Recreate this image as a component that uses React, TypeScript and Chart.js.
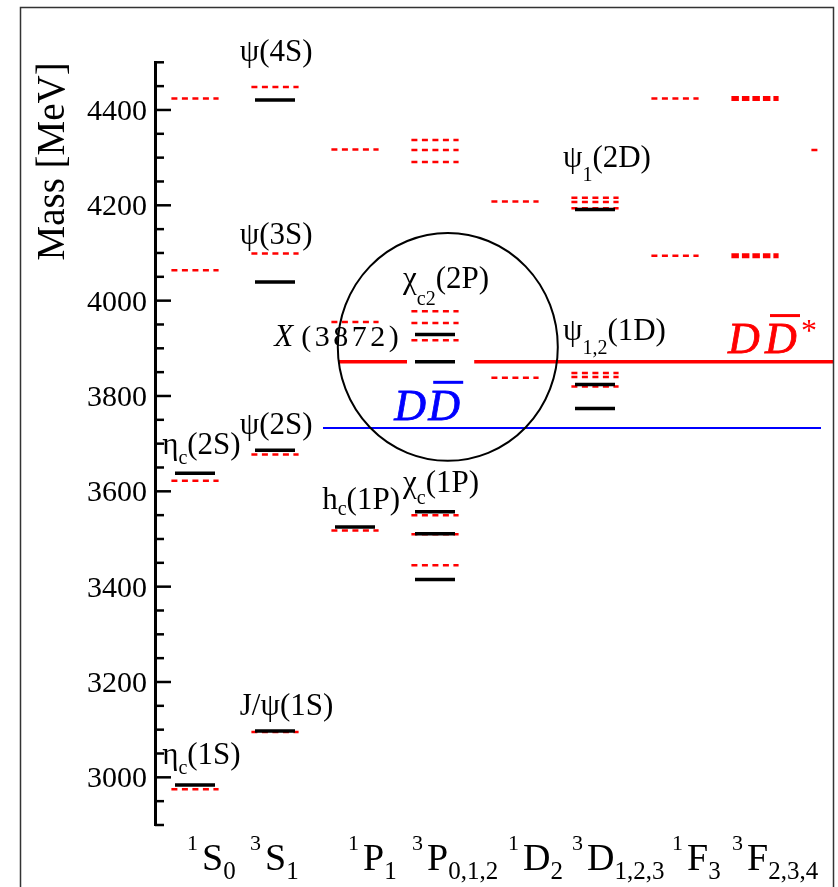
import React, { useEffect, useRef } from 'react';
import { Chart, registerables } from 'chart.js';

Chart.register(...registerables);

const W = 838;
const H = 887;

// Spectroscopic terms along the horizontal axis
const TERM_SUP = ['1', '3', '1', '3', '1', '3', '1', '3'];
const TERM_LETTER = ['S', 'S', 'P', 'P', 'D', 'D', 'F', 'F'];
const TERM_SUB = ['0', '1', '1', '0,1,2', '2', '1,2,3', '3', '2,3,4'];

// Mass axis (MeV)
const Y_MIN = 2900;
const Y_MAX = 4500;
const MAJOR_TICKS = [3000, 3200, 3400, 3600, 3800, 4000, 4200, 4400];
const MINOR_STEP = 50;

// Observed charmonium levels (solid black), MeV
const EXP_1S0 = [2984, 3638];
const EXP_3S1 = [3097, 3686, 4039, 4421];
const EXP_1P1 = [3525];
const EXP_3PJ = [3415, 3511, 3557, 3929];
const EXP_3DJ = [3774, 3824, 4191];
const X3872 = 3872;

// Quark-model levels (red dashed), MeV
const MODEL_1S0 = [2975, 3622, 4064, 4424];
const MODEL_3S1 = [3095, 3677, 4099, 4448];
const MODEL_1P1 = [3518, 3955, 4317];
const MODEL_3PJ = [3445, 3510, 3550, 3917, 3953, 3978, 4291, 4316, 4337];
const MODEL_1D2 = [3838, 4208];
const MODEL_3DJ = [3820, 3840, 3848, 4194, 4207, 4216];
const MODEL_1F3 = [4094, 4424];
const MODEL_3FJ = [4094, 4424];
const MODEL_G = [4316];

// Open-charm thresholds, MeV
const DD_THRESHOLD = 3733;
const DDSTAR_THRESHOLD = X3872;

const EXP_BY_COLUMN = [EXP_1S0, EXP_3S1, EXP_1P1, [...EXP_3PJ, X3872], [], EXP_3DJ, [], []];
const MODEL_BY_COLUMN = [MODEL_1S0, MODEL_3S1, MODEL_1P1, MODEL_3PJ, MODEL_1D2, MODEL_3DJ, MODEL_1F3, MODEL_3FJ, MODEL_G];

const RED = '#ff0000';
const BLUE = '#0000ff';
const SERIF = '"Liberation Serif", "Times New Roman", serif';

const X_MIN = -0.5;
const X_MAX = 7.825;
const HALF_EXP = 0.25;
const HALF_MODEL = 0.295;

function segment(x0: number, x1: number, y: number) {
  return [{ x: x0, y }, { x: x1, y }];
}

function buildDatasets() {
  const sets: any[] = [];
  MODEL_BY_COLUMN.forEach((masses, col) => {
    const thick = col === 7;
    masses.forEach((m) => {
      sets.push({
        data: segment(col - HALF_MODEL, col + HALF_MODEL, m),
        borderColor: RED,
        borderWidth: thick ? 5 : 2.5,
        borderDash: thick ? [7.5, 3] : [6, 4.5],
        borderCapStyle: 'butt',
        order: 3,
      });
    });
  });
  // thresholds
  sets.push({
    data: segment(1.6, X_MAX + 0.5, DD_THRESHOLD),
    borderColor: BLUE,
    borderWidth: 2,
    order: 2,
  });
  sets.push({
    data: segment(1.79, 2.65, DDSTAR_THRESHOLD),
    borderColor: RED,
    borderWidth: 3.5,
    order: 2,
  });
  sets.push({
    data: segment(3.49, 7.975, DDSTAR_THRESHOLD),
    borderColor: RED,
    borderWidth: 3.5,
    clip: false,
    order: 2,
  });
  EXP_BY_COLUMN.forEach((masses, col) => {
    masses.forEach((m) => {
      sets.push({
        data: segment(col - HALF_EXP, col + HALF_EXP, m),
        borderColor: '#000',
        borderWidth: 3.5,
        borderCapStyle: 'butt',
        order: 1,
      });
    });
  });
  return sets.map((s) => ({ showLine: true, pointRadius: 0, pointHoverRadius: 0, fill: false, ...s }));
}

type Run = { t: string; size: number; dy?: number; dx?: number; italic?: boolean };

const NAME = 31;
const IDX = 20;

// State names: anchor x in column units, baseline in MeV
const STATE_LABELS: { x: number; m: number; runs: Run[] }[] = [
  { x: 0.56, m: 4503, runs: [{ t: 'ψ(4S)', size: NAME }] },
  { x: 0.56, m: 4119, runs: [{ t: 'ψ(3S)', size: NAME }] },
  { x: 0.56, m: 3720, runs: [{ t: 'ψ(2S)', size: NAME }] },
  { x: -0.41, m: 3678, runs: [{ t: 'η', size: NAME }, { t: 'c', size: IDX, dy: 10 }, { t: '(2S)', size: NAME }] },
  { x: -0.41, m: 3028, runs: [{ t: 'η', size: NAME }, { t: 'c', size: IDX, dy: 10 }, { t: '(1S)', size: NAME }] },
  { x: 0.56, m: 3131, runs: [{ t: 'J/ψ(1S)', size: NAME }] },
  { x: 1.59, m: 3563, runs: [{ t: 'h', size: NAME }, { t: 'c', size: IDX, dy: 6 }, { t: '(1P)', size: NAME }] },
  { x: 2.6, m: 3599, runs: [{ t: 'χ', size: NAME }, { t: 'c', size: IDX, dy: 12 }, { t: '(1P)', size: NAME }] },
  { x: 2.6, m: 4027, runs: [{ t: 'χ', size: NAME }, { t: 'c2', size: IDX, dy: 17 }, { t: '(2P)', size: NAME }] },
  { x: 4.6, m: 4280, runs: [{ t: 'ψ', size: NAME }, { t: '1', size: IDX, dy: 14 }, { t: '(2D)', size: NAME }] },
  { x: 4.6, m: 3918, runs: [{ t: 'ψ', size: NAME }, { t: '1,2', size: IDX, dy: 14 }, { t: '(1D)', size: NAME }] },
];

const TERM_LEFT_SHIFT = [-8, -25, -7, -23, -7, -23, -3, -23];

function drawRuns(ctx: CanvasRenderingContext2D, x: number, y: number, runs: Run[], color: string, spacing = 0) {
  let cx = x;
  ctx.fillStyle = color;
  for (const r of runs) {
    ctx.font = `${r.italic ? 'italic ' : ''}${r.size}px ${SERIF}`;
    cx += r.dx || 0;
    if (spacing) {
      for (const ch of r.t) {
        ctx.fillText(ch, cx, y + (r.dy || 0));
        cx += ctx.measureText(ch).width + spacing;
      }
    } else {
      ctx.fillText(r.t, cx, y + (r.dy || 0));
      cx += ctx.measureText(r.t).width;
    }
  }
  return cx;
}

const decorations = {
  id: 'decorations',
  beforeDraw(chart: any) {
    const ctx = chart.ctx;
    ctx.save();
    ctx.fillStyle = '#fff';
    ctx.fillRect(0, 0, chart.width, chart.height);
    ctx.restore();
  },
  afterDatasetsDraw(chart: any) {
    const ctx: CanvasRenderingContext2D = chart.ctx;
    const xs = chart.scales.x;
    const ys = chart.scales.y;
    const px = (v: number) => xs.getPixelForValue(v);
    const py = (v: number) => ys.getPixelForValue(v);
    ctx.save();
    ctx.textBaseline = 'alphabetic';
    ctx.textAlign = 'left';

    // ring around the X(3872) region
    const cx = 3.16;
    const cm = 3903;
    ctx.beginPath();
    ctx.ellipse(px(cx), py(cm), px(cx + 1.375) - px(cx), py(cm - 239) - py(cm), 0, 0, Math.PI * 2);
    ctx.lineWidth = 2;
    ctx.strokeStyle = '#000';
    ctx.stroke();

    // state names
    for (const l of STATE_LABELS) drawRuns(ctx, px(l.x), py(l.m), l.runs, '#000');

    // X(3872)
    {
      const x0 = px(0.99);
      const y0 = py(3905);
      ctx.fillStyle = '#000';
      ctx.font = `italic 31px ${SERIF}`;
      ctx.fillText('X', x0, y0);
      drawRuns(ctx, x0 + 27, y0, [{ t: '(3872)', size: 30 }], '#000', 3.5);
    }

    // D Dbar labels
    const dPair = (xUnit: number, mBase: number, color: string, gap: number, star: boolean) => {
      const x0 = px(xUnit);
      const y0 = py(mBase);
      ctx.fillStyle = color;
      ctx.strokeStyle = color;
      ctx.lineWidth = 0.8;
      ctx.font = `italic 44px ${SERIF}`;
      ctx.fillText('D', x0, y0);
      ctx.strokeText('D', x0, y0);
      const x2 = x0 + gap;
      ctx.fillText('D', x2, y0);
      ctx.strokeText('D', x2, y0);
      ctx.fillRect(x2 + 5, y0 - 39, 30, 3);
      if (star) {
        ctx.font = `32px ${SERIF}`;
        ctx.fillText('*', x2 + 36, y0 - 12);
      }
    };
    dPair(2.49, 3750, BLUE, 34, false);
    dPair(6.6625, 3890, RED, 37, true);

    // term labels below the plot
    for (let i = 0; i < TERM_LETTER.length; i++) {
      const x0 = px(i) + TERM_LEFT_SHIFT[i];
      drawRuns(ctx, x0, 870, [
        { t: TERM_SUP[i], size: 22, dy: -20 },
        { t: TERM_LETTER[i], size: 38, dx: 4 },
        { t: TERM_SUB[i], size: 25, dy: 9 },
      ], '#000');
    }
    ctx.restore();
  },
  afterDraw(chart: any) {
    const ctx: CanvasRenderingContext2D = chart.ctx;
    const ys = chart.scales.y;
    const left = chart.chartArea.left;
    ctx.save();
    ctx.strokeStyle = '#000';
    ctx.lineWidth = 2.5;
    for (let v = Y_MIN; v <= Y_MAX; v += MINOR_STEP) {
      const y = ys.getPixelForValue(v);
      const len = MAJOR_TICKS.includes(v) ? 16 : 9;
      ctx.beginPath();
      ctx.moveTo(left, y);
      ctx.lineTo(left + len, y);
      ctx.stroke();
    }
    // outer frame
    ctx.strokeStyle = '#333';
    ctx.lineWidth = 1.5;
    ctx.strokeRect(20.5, 7.5, 813, 900);
    ctx.restore();
  },
};

export default function App() {
  const ref = useRef<HTMLCanvasElement>(null);
  useEffect(() => {
    const canvas = ref.current;
    if (!canvas) return;
    const chart = new Chart(canvas, {
      type: 'scatter',
      data: { datasets: buildDatasets() },
      options: {
        responsive: false,
        animation: false,
        devicePixelRatio: 1,
        events: [],
        layout: { padding: { left: 0, right: W - 821, top: 62.3, bottom: H - 825 } },
        plugins: { legend: { display: false }, tooltip: { enabled: false } },
        scales: {
          x: { type: 'linear', min: X_MIN, max: X_MAX, display: false },
          y: {
            type: 'linear',
            min: Y_MIN,
            max: Y_MAX,
            afterBuildTicks: (s: any) => {
              s.ticks = MAJOR_TICKS.map((v) => ({ value: v }));
            },
            afterFit: (s: any) => {
              s.width = 155;
            },
            grid: { display: false, drawTicks: false },
            border: { display: true, color: '#000', width: 3 },
            ticks: {
              color: '#000',
              font: { family: SERIF, size: 30 },
              padding: 8,
              labelOffset: 2,
              autoSkip: false,
              callback: (v: any) => String(v),
            },
            title: {
              display: true,
              text: 'Mass [MeV]',
              align: 'end',
              color: '#000',
              font: { family: SERIF, size: 39 },
              padding: { top: 30, bottom: 0 },
            },
          },
        },
      } as any,
      plugins: [decorations],
    });
    return () => chart.destroy();
  }, []);
  return (
    <div style={{ position: 'fixed', left: 0, top: 0, width: W, height: H, background: '#fff' }}>
      <canvas ref={ref} width={W} height={H} style={{ display: 'block', width: W, height: H }} />
    </div>
  );
}
